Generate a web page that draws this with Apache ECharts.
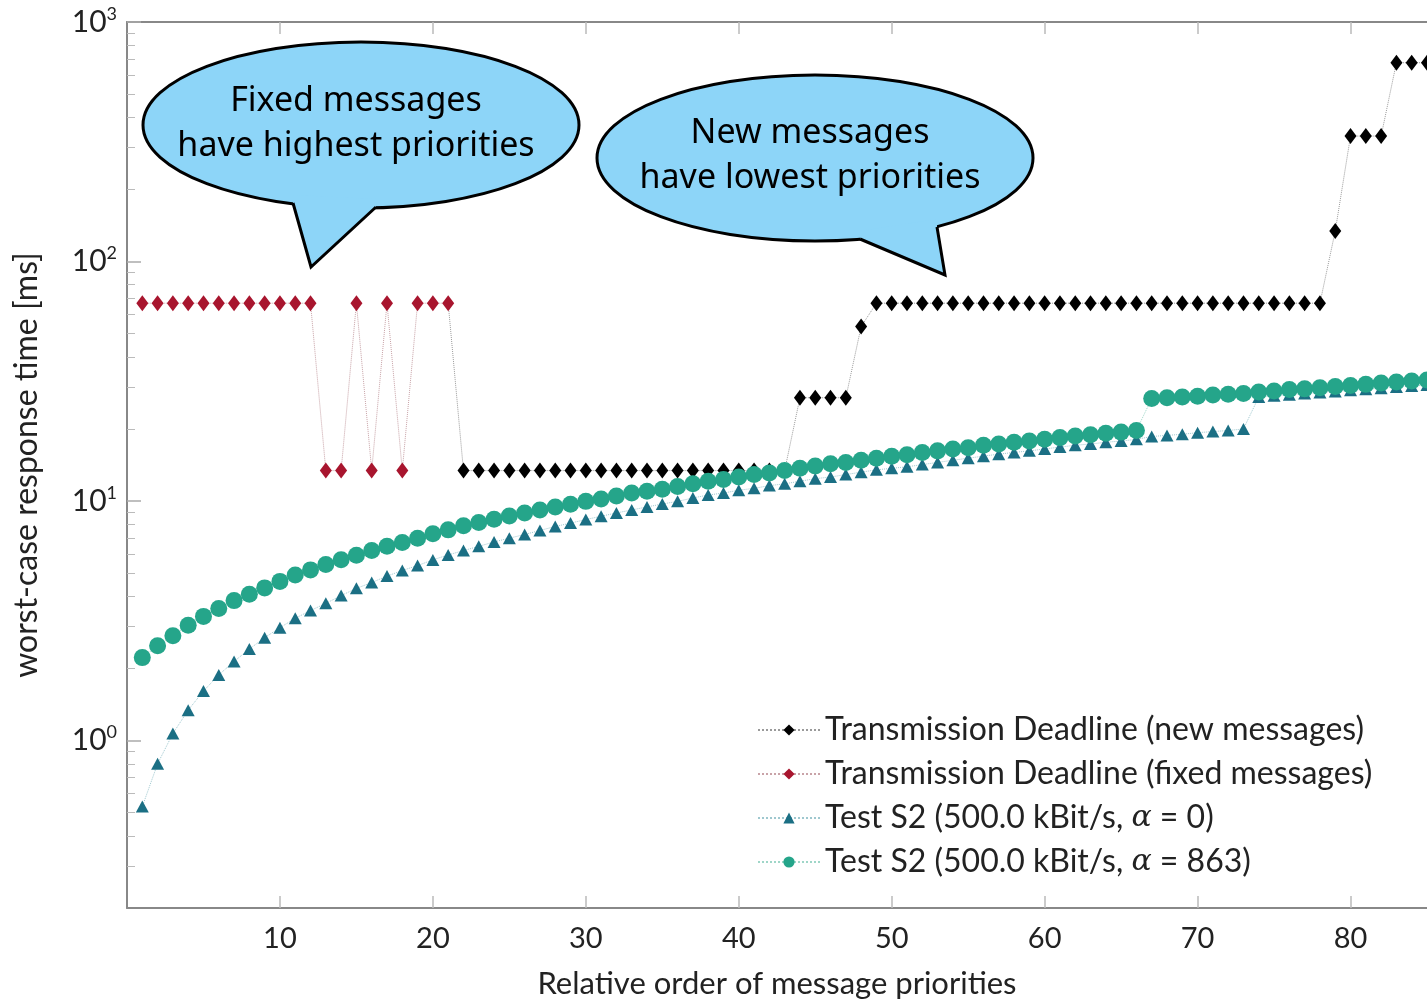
<!DOCTYPE html>
<html>
<head>
<meta charset="utf-8">
<script src="https://cdn.jsdelivr.net/npm/echarts@6/dist/echarts.min.js"></script>
<style>
html,body{margin:0;padding:0;background:#fff;}
#chart{width:1427px;height:1004px;}
</style>
</head>
<body>
<div id="chart"></div>
<script>
// ---- data ----
const priorities = [1,2,3,4,5,6,7,8,9,10,11,12,13,14,15,16,17,18,19,20,21,22,23,24,25,26,27,28,29,30,31,32,33,34,35,36,37,38,39,40,41,42,43,44,45,46,47,48,49,50,51,52,53,54,55,56,57,58,59,60,61,62,63,64,65,66,67,68,69,70,71,72,73,74,75,76,77,78,79,80,81,82,83,84,85];

// Transmission Deadline (fixed messages), priorities 1..21
const fixedX = [1,2,3,4,5,6,7,8,9,10,11,12,13,14,15,16,17,18,19,20,21];
const fixedDeadline = [67,67,67,67,67,67,67,67,67,67,67,67,13.4,13.4,67,13.4,67,13.4,67,67,67];

// Transmission Deadline (new messages), priorities 22..85
const newX = [22,23,24,25,26,27,28,29,30,31,32,33,34,35,36,37,38,39,40,41,42,43,44,45,46,47,48,49,50,51,52,53,54,55,56,57,58,59,60,61,62,63,64,65,66,67,68,69,70,71,72,73,74,75,76,77,78,79,80,81,82,83,84,85];
const newDeadline = [13.4,13.4,13.4,13.4,13.4,13.4,13.4,13.4,13.4,13.4,13.4,13.4,13.4,13.4,13.4,13.4,13.4,13.4,13.4,13.4,13.4,13.4,
  27,27,27,27,53.5,
  67,67,67,67,67,67,67,67,67,67,67,67,67,67,67,67,67,67,67,67,67,67,67,67,67,67,67,67,67,67,
  134,334,334,334,676,676,676];

// Test S2 (500.0 kBit/s, alpha = 0)
const testAlpha0 = [0.53,0.80,1.07,1.34,1.61,1.88,2.14,2.41,2.69,2.96,3.24,3.49,3.74,4.03,4.32,4.57,4.86,5.13,5.38,5.68,
  5.96,6.21,6.47,6.75,7.0,7.25,7.54,7.83,8.09,8.37,8.64,8.92,9.18,9.45,9.72,9.97,10.3,10.6,10.8,11.1,
  11.3,11.6,11.8,12.1,12.4,12.6,12.9,13.2,13.5,13.7,13.9,14.2,14.5,14.8,15.1,15.4,15.7,15.96,16.2,16.5,
  16.8,17.1,17.3,17.6,17.8,18.1,18.6,18.8,19.0,19.3,19.5,19.7,20.0,27.2,27.5,27.8,28.1,28.4,28.7,29.0,
  29.3,29.6,29.9,30.2,30.5];

// Test S2 (500.0 kBit/s, alpha = 863)
const testAlpha863 = [2.22,2.49,2.74,3.03,3.30,3.56,3.84,4.08,4.34,4.62,4.91,5.16,5.43,5.69,5.94,6.21,6.47,6.72,7.0,7.30,
  7.58,7.88,8.13,8.40,8.67,8.92,9.18,9.45,9.69,9.97,10.2,10.5,10.8,11.0,11.2,11.5,11.8,12.1,12.3,12.6,
  12.9,13.1,13.4,13.7,14.0,14.3,14.5,14.8,15.1,15.4,15.6,15.96,16.2,16.5,16.7,17.1,17.3,17.6,17.8,18.1,
  18.4,18.7,18.9,19.2,19.4,19.7,26.8,27.0,27.2,27.4,27.7,27.9,28.1,28.5,28.8,29.2,29.4,29.7,30.1,30.4,
  30.7,31.1,31.4,31.7,32.0];

const xTicks = [10,20,30,40,50,60,70,80];
const yMajorTicks = [1,10,100,1000];
const yMinorTicks = [0.3,0.4,0.5,0.6,0.7,0.8,0.9,2,3,4,5,6,7,8,9,20,30,40,50,60,70,80,90,200,300,400,500,600,700,800,900];

const seriesNames = [
  'Transmission Deadline (new messages)',
  'Transmission Deadline (fixed messages)',
  'Test S2 (500.0 kBit/s, α = 0)',
  'Test S2 (500.0 kBit/s, α = 863)'
];

// ---- build ----
function zip(xs, ys){ return xs.map((x,i)=>[x, ys[i]]); }
const newData = zip(newX, newDeadline);
// connecting segment from the last fixed-priority message to the first new one
newData.unshift({value:[fixedX[fixedX.length-1], fixedDeadline[fixedDeadline.length-1]], symbol:'none'});

const FONT = 'Lato';
const TXT = '#222';
const AX = '#888';

const chart = echarts.init(document.getElementById('chart'), null, {renderer:'canvas'});

function bubble(cx, cy, rx, ry, bl, tip, br, lines, textY){
  const els = [
    {type:'ellipse', shape:{cx, cy, rx, ry}, style:{fill:'#8dd5f8', stroke:'#000', lineWidth:3}, z:100},
    {type:'polygon', shape:{points:[bl, tip, br, [br[0], br[1]-8], [bl[0], bl[1]-8]]}, style:{fill:'#8dd5f8'}, z:101},
    {type:'polyline', shape:{points:[bl, tip, br]}, style:{stroke:'#000', lineWidth:3, fill:null}, z:102}
  ];
  lines.forEach((t,i)=>{
    els.push({type:'text', x:cx-5, y:textY[i], z:103,
      style:{text:t, fill:'#000', font:'34px "Noto Sans"', textAlign:'center', textVerticalAlign:'middle'}});
  });
  return els;
}

const option = {
  backgroundColor:'#fff',
  animation:false,
  grid:{left:127, right:0, top:22, bottom:88, containLabel:false},
  legend:{
    orient:'vertical', left:752, top:709,
    itemWidth:62, itemHeight:14, itemGap:12,
    data:seriesNames,
    textStyle:{fontFamily:FONT, fontSize:32, color:TXT, lineHeight:32,
      rich:{a:{fontFamily:'DejaVu Serif', fontStyle:'italic', fontSize:30, color:TXT}}},
    formatter:function(n){ return n.replace('α','{a|α}'); }
  },
  xAxis:[{
    type:'value', min:0, max:85, interval:10, position:'bottom',
    name:'Relative order of message priorities', nameLocation:'middle', nameGap:60,
    nameTextStyle:{fontFamily:FONT, fontSize:31, color:TXT},
    axisLine:{lineStyle:{color:AX, width:2}},
    axisTick:{inside:true, length:12, lineStyle:{color:'#bbb', width:1.5}, customValues:xTicks},
    axisLabel:{fontFamily:FONT, fontSize:29, color:TXT, margin:16, customValues:xTicks},
    splitLine:{show:false}
  },{
    type:'value', min:0, max:85, interval:10, position:'top',
    axisLine:{lineStyle:{color:AX, width:2}},
    axisTick:{inside:true, length:12, lineStyle:{color:'#bbb', width:1.5}, customValues:xTicks},
    axisLabel:{show:false},
    splitLine:{show:false}
  }],
  yAxis:[{
    type:'log', logBase:10, min:0.2, max:1000, position:'left',
    name:'worst-case response time [ms]', nameLocation:'middle', nameGap:84,
    nameTextStyle:{fontFamily:FONT, fontSize:32, color:TXT},
    axisLine:{show:true, lineStyle:{color:AX, width:2}},
    axisTick:{inside:true, length:14, lineStyle:{color:'#aaa', width:1.5}, customValues:yMajorTicks},
    axisLabel:{customValues:yMajorTicks, margin:10, color:TXT,
      formatter:function(v){ return '{b|10}{s|' + Math.round(Math.log10(v)) + '}'; },
      rich:{b:{fontFamily:FONT, fontSize:30, color:TXT},
            s:{fontFamily:FONT, fontSize:18, color:TXT, padding:[0,0,16,0]}}},
    splitLine:{show:false}
  },{
    type:'log', logBase:10, min:0.2, max:1000, position:'left',
    axisLine:{show:false},
    axisTick:{inside:true, length:8, lineStyle:{color:'#bbb', width:1}, customValues:yMinorTicks},
    axisLabel:{show:false},
    splitLine:{show:false}
  }],
  series:[
    {name:seriesNames[0], type:'line', data:newData, symbol:'diamond', symbolSize:[12,16],
      itemStyle:{color:'#000'}, lineStyle:{color:'#9a9a9a', width:1, type:'dotted'}, z:2},
    {name:seriesNames[1], type:'line', data:zip(fixedX, fixedDeadline), symbol:'diamond', symbolSize:[12,16],
      itemStyle:{color:'#a8152e'}, lineStyle:{color:'#c9a3a8', width:1, type:'dotted'}, z:3},
    {name:seriesNames[2], type:'line', data:zip(priorities, testAlpha0), symbol:'triangle', symbolSize:[13,12],
      itemStyle:{color:'#1b6f84'}, lineStyle:{color:'#9fc8cf', width:1, type:'dotted'}, z:4},
    {name:seriesNames[3], type:'line', data:zip(priorities, testAlpha863), symbol:'circle', symbolSize:17,
      itemStyle:{color:'#25a58a'}, lineStyle:{color:'#9fd6c8', width:1, type:'dotted'}, z:5}
  ],
  graphic: [].concat(
    bubble(361,125,218,83,[293,203],[311,267],[376,207],['Fixed messages','have highest priorities'],[101,146]),
    bubble(815,158,218,83,[860,239],[945,275],[937,227],['New messages','have lowest priorities'],[133,178])
  )
};
chart.setOption(option);
</script>
</body>
</html>
